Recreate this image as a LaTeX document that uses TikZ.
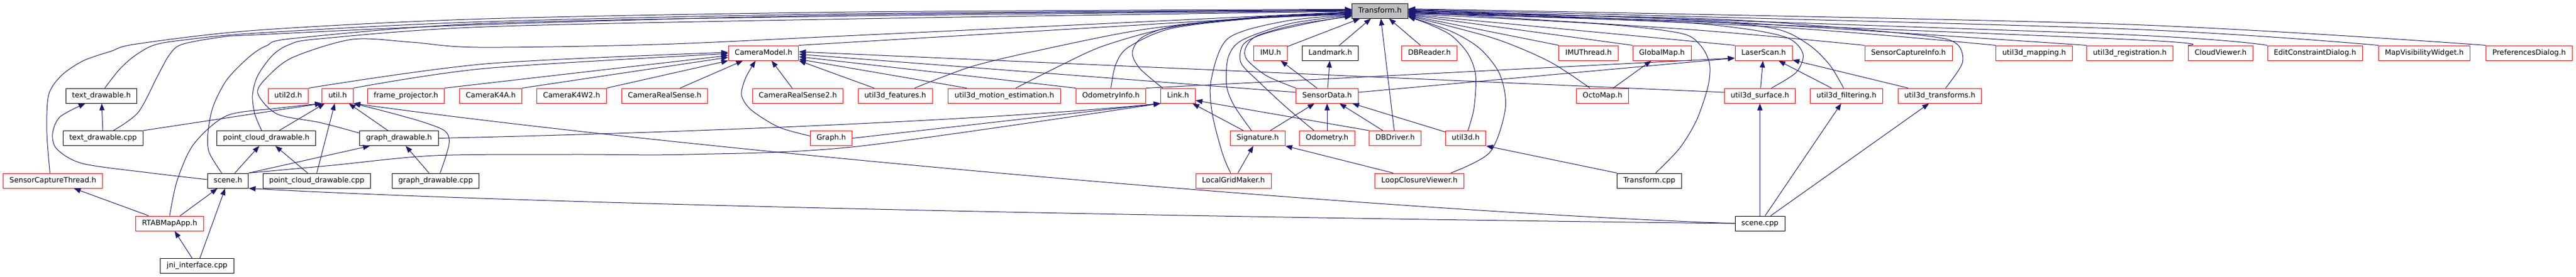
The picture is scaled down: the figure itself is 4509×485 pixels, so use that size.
\documentclass[tikz,border=0pt]{standalone}
\usepackage{fontspec}
\setmainfont{DejaVu Sans}
\usepackage{tikz}
\usetikzlibrary{arrows.meta}

\definecolor{edgeblue}{HTML}{191970}
\definecolor{partred}{HTML}{FF0000}

\begin{document}
\begin{tikzpicture}[x=1pt,y=-1pt,
        filebox/.style={draw=black, line width=1pt, inner xsep=11pt, inner ysep=0pt,
            minimum height=26pt, text height=9.5pt, text depth=3pt,
            font=\fontsize{12.8}{15}\selectfont},
        partbox/.style={filebox, draw=partred},
        mainbox/.style={filebox, fill=gray!50},
        dep/.style={edgeblue, line width=1pt, -{Triangle[length=12pt,width=9pt]}}]
    \useasboundingbox (0,0) rectangle (4509,485);

    \node[mainbox] (Tr) at (2415.5,19) {Transform.h};

    % rank 1
    \node[partbox] (CamModel) at (1336.5,93) {CameraModel.h};
    \node[partbox] (IMU) at (2224,93) {IMU.h};
    \node[filebox] (Landmark) at (2328.5,93) {Landmark.h};
    \node[partbox] (DBReader) at (2502,93) {DBReader.h};
    \node[partbox] (IMUThread) at (2780.5,93) {IMUThread.h};
    \node[partbox] (GlobalMap) at (2909,93) {GlobalMap.h};
    \node[partbox] (LaserScan) at (3087,93) {LaserScan.h};
    \node[partbox] (SCInfo) at (3340.5,93) {SensorCaptureInfo.h};
    \node[partbox] (UMapping) at (3560.5,93) {util3d\_mapping.h};
    \node[partbox] (UReg) at (3728,93) {util3d\_registration.h};
    \node[partbox] (CloudViewer) at (3887,93) {CloudViewer.h};
    \node[partbox] (EditConstr) at (4052,93) {EditConstraintDialog.h};
    \node[partbox] (MapVis) at (4243.5,93) {MapVisibilityWidget.h};
    \node[partbox] (Prefs) at (4427,93) {PreferencesDialog.h};

    % rank 2
    \node[filebox] (TextDrawH) at (177.5,168) {text\_drawable.h};
    \node[partbox] (Util2d) at (504.5,168) {util2d.h};
    \node[partbox] (Util) at (591,168) {util.h};
    \node[partbox] (FrameProj) at (710.5,168) {frame\_projector.h};
    \node[partbox] (CamK4A) at (859,168) {CameraK4A.h};
    \node[partbox] (CamK4W2) at (1000.5,168) {CameraK4W2.h};
    \node[partbox] (CamRS) at (1163.5,168) {CameraRealSense.h};
    \node[partbox] (CamRS2) at (1396.5,168) {CameraRealSense2.h};
    \node[partbox] (UFeat) at (1567,168) {util3d\_features.h};
    \node[partbox] (UMotion) at (1758,168) {util3d\_motion\_estimation.h};
    \node[partbox] (OdomInfo) at (1944.5,168) {OdometryInfo.h};
    \node[partbox] (Link) at (2062,168) {Link.h};
    \node[partbox] (SensorData) at (2323,168) {SensorData.h};
    \node[partbox] (OctoMap) at (2805,168) {OctoMap.h};
    \node[partbox] (USurface) at (3080.5,168) {util3d\_surface.h};
    \node[partbox] (UFilter) at (3232,168) {util3d\_filtering.h};
    \node[partbox] (UTrans) at (3395.5,168) {util3d\_transforms.h};

    % rank 3
    \node[filebox] (TextDrawCpp) at (180.5,242.5) {text\_drawable.cpp};
    \node[filebox] (PcdH) at (466,242.5) {point\_cloud\_drawable.h};
    \node[filebox] (GraphDrawH) at (698.5,242.5) {graph\_drawable.h};
    \node[partbox] (Graph) at (1455,242.5) {Graph.h};
    \node[partbox] (Signature) at (2201.5,242.5) {Signature.h};
    \node[partbox] (Odometry) at (2323,242.5) {Odometry.h};
    \node[partbox] (DBDriver) at (2442,242.5) {DBDriver.h};
    \node[partbox] (Util3d) at (2565.5,242.5) {util3d.h};

    % rank 4
    \node[partbox] (SCThread) at (92.5,317) {SensorCaptureThread.h};
    \node[filebox] (SceneH) at (399,317) {scene.h};
    \node[filebox] (PcdCpp) at (554.5,317) {point\_cloud\_drawable.cpp};
    \node[filebox] (GraphDrawCpp) at (762.5,317) {graph\_drawable.cpp};
    \node[partbox] (LocalGrid) at (2159,317) {LocalGridMaker.h};
    \node[partbox] (LCViewer) at (2484.5,317) {LoopClosureViewer.h};
    \node[filebox] (TrCpp) at (2887,317) {Transform.cpp};

    % rank 5 and 6
    \node[partbox] (RTABMapApp) at (297,392) {RTABMapApp.h};
    \node[filebox] (SceneCpp) at (3080.5,392) {scene.cpp};
    \node[filebox] (Jni) at (345,466.5) {jni\_interface.cpp};

    % into Transform.h from the left
    \draw[dep] plot[smooth] coordinates {([xshift=-5pt]SCThread.north) (82,233) (85,167) (107,133) (145,107) (194,90) (240,77) (450,53) (850,33) (1500,21) (Tr.177)};
    \draw[dep] plot[smooth] coordinates {([xshift=6pt]TextDrawH.north) (208,123) (233,100) (267,80) (315,71) (450,58) (850,38) (1500,24) (Tr.178)};
    \draw[dep] plot[smooth] coordinates {([xshift=18pt]TextDrawCpp.north) (242,197) (276,133) (296,97) (318,78) (388,65) (450,61) (850,43) (1500,26) (Tr.179)};
    \draw[dep] plot[smooth] coordinates {([xshift=-11pt]SceneH.north) (366,267) (364,233) (373,187) (397,140) (436,100) (467,80) (517,67) (850,41) (1500,28) (Tr.180)};
    \draw[dep] plot[smooth] coordinates {([xshift=-8pt]PcdH.north) (446,200) (442,167) (451,133) (477,97) (507,78) (560,68) (850,47) (1500,33) (Tr.181)};
    \draw[dep] plot[smooth] coordinates {([yshift=9pt]GraphDrawH.west) (560,215) (485,200) (451,163) (470,133) (514,100) (617,69) (720,74) (837,83) (1150,78) (1500,62) (Tr.182)};
    \draw[dep] (CamModel.north east)-- (Tr.183);
    \draw[dep] plot[smooth] coordinates {([xshift=34pt]UFeat.north) (1700,117) (1820,88) (2000,52) (2200,30) (Tr.184)};
    \draw[dep] plot[smooth] coordinates {([xshift=20pt]UMotion.north) (1860,113) (1933,80) (2050,48) (2200,31) (Tr.185)};
    \draw[dep] plot[smooth] coordinates {(OdomInfo.north) (1953,113) (1975,83) (2050,50) (2200,32) (Tr.186)};
    \draw[dep] plot[smooth] coordinates {([xshift=-27pt]Link.north) (1995,120) (1982,92) (2000,65) (2060,45) (2200,32) (Tr.187)};
    \draw[dep] plot[smooth] coordinates {([xshift=-5pt]LocalGrid.north) (2140,270) (2122,200) (2120,140) (2150,67) (2250,37) (Tr.188)};
    \draw[dep] plot[smooth] coordinates {([xshift=-11pt]Signature.north) (2160,185) (2147,150) (2150,100) (2175,70) (2260,41) (Tr.189)};
    \draw[dep] plot[smooth] coordinates {([xshift=-23pt]Odometry.north) (2250,187) (2203,143) (2172,110) (2177,77) (2217,58) (2300,39) (Tr.190)};
    \draw[dep] plot[smooth] coordinates {(SensorData.north west) (2217,133) (2183,105) (2180,85) (2200,63) (2270,43) (Tr.191)};

    % into Transform.h from below
    \draw[dep] (IMU)-- (Tr);
    \draw[dep] (Landmark)-- (Tr);
    \draw[dep] (DBDriver)-- (Tr);
    \draw[dep] (DBReader)-- (Tr);

    % into Transform.h from the right
    \draw[dep] plot[smooth] coordinates {([xshift=4pt]Util3d.north) (2580,190) (2583,133) (2570,95) (2540,62) (2500,42) (Tr.348)};
    \draw[dep] plot[smooth] coordinates {([xshift=55pt]LCViewer.north) (2608,267) (2635,190) (2625,130) (2590,85) (2540,55) (Tr.349)};
    \draw[dep] plot[smooth] coordinates {([xshift=-22pt]OctoMap.north) (2712,108) (2614,67) (Tr.350)};
    \draw[dep] (IMUThread.north west)-- (Tr.351);
    \draw[dep] (GlobalMap.north west)-- (Tr.352);
    \draw[dep] (LaserScan.north west)-- (Tr.353);
    \draw[dep] plot[smooth] coordinates {([xshift=11pt]TrCpp.north) (2940,260) (2970,210) (2990,150) (2992,110) (2975,78) (2940,58) (2800,42) (Tr.354)};
    \draw[dep] plot[smooth] coordinates {([xshift=20pt]USurface.north) (3144,127) (3156,95) (3130,67) (3050,50) (2900,37) (Tr.355)};
    \draw[dep] plot[smooth] coordinates {([xshift=-5pt]UFilter.north) (3202,113) (3164,77) (3105,50) (2960,37) (Tr.356)};
    \draw[dep] plot[smooth] coordinates {([xshift=10pt]UTrans.north) (3435,110) (3425,77) (3372,63) (3154,43) (2960,32) (Tr.357)};
    \draw[dep] plot[smooth] coordinates {(SCInfo.north west) (2960,52) (Tr.358)};
    \draw[dep] plot[smooth] coordinates {(UMapping.north west) (3100,47) (Tr.359)};
    \draw[dep] plot[smooth] coordinates {(UReg.north west) (2960,35) (Tr.0)};
    \draw[dep] plot[smooth] coordinates {(CloudViewer.north west) (3700,68) (Tr.1)};
    \draw[dep] plot[smooth] coordinates {(EditConstr.north west) (3700,60) (Tr.2)};
    \draw[dep] plot[smooth] coordinates {(MapVis.north west) (3700,50) (Tr.3)};
    \draw[dep] plot[smooth] coordinates {(Prefs.north west) (3700,42) (Tr.4)};

    % CameraModel.h
    \draw[dep] plot[smooth] coordinates {(Util2d.north east) (850,112) (CamModel.179)};
    \draw[dep] plot[smooth] coordinates {(Util.north east) (850,120) (CamModel.181)};
    \draw[dep] (FrameProj.north east)-- (CamModel.184);
    \draw[dep] (CamK4A.north east)-- (CamModel.187);
    \draw[dep] (CamK4W2.north east)-- (CamModel.south west);
    \draw[dep] ([xshift=27pt]CamRS.north)-- ([xshift=-36pt]CamModel.south);
    \draw[dep] ([xshift=-10pt]CamRS2.north)-- ([xshift=14pt]CamModel.south);
    \draw[dep] plot[smooth] coordinates {([yshift=4pt]Graph.west) (1363,223) (1315,193) (1298,167) (1305,137) ([xshift=-14pt]CamModel.south)};
    \draw[dep] ([xshift=-37pt]UFeat.north)-- (CamModel.south east);
    \draw[dep] ([xshift=-66pt]UMotion.north)-- (CamModel.350);
    \draw[dep] (OdomInfo.north west)-- (CamModel.354);
    \draw[dep] ([yshift=6pt]SensorData.west)-- (CamModel.358);
    \draw[dep] ([yshift=6pt]USurface.west)-- (CamModel.2);

    % SensorData.h, Link.h, Signature.h
    \draw[dep] (SensorData)-- (IMU);
    \draw[dep] (SensorData)-- (Landmark);
    \draw[dep] ([yshift=6pt]SensorData.east)-- (LaserScan.190);
    \draw[dep] (OdomInfo.north east)-- (LaserScan.190);
    \draw[dep] (Signature)-- (SensorData);
    \draw[dep] (Odometry)-- (SensorData);
    \draw[dep] (DBDriver)-- (SensorData);
    \draw[dep] (Util3d)-- (SensorData);
    \draw[dep] (Signature)-- (Link);
    \draw[dep] (DBDriver.north west)-- (Link.345);
    \draw[dep] (Graph.east)-- (Link.south west);
    \draw[dep] (GraphDrawH.east) .. controls (1200,233) and (1750,210) .. (Link.south west);
    \draw[dep] plot[smooth] coordinates {(SceneH.north east) (582,290) (760,273) (1000,271) (1205,271) (1500,257) (Link.south west)};
    \draw[dep] (LocalGrid)-- (Signature);
    \draw[dep] ([xshift=-46pt]LCViewer.north)-- (Signature.south east);
    \draw[dep] (TrCpp.north west)-- (Util3d.south east);
    \draw[dep] (OctoMap)-- (GlobalMap);

    % LaserScan.h and scene.cpp
    \draw[dep] (USurface)-- (LaserScan);
    \draw[dep] (UFilter)-- (LaserScan);
    \draw[dep] (UTrans)-- (LaserScan);
    \draw[dep] (SceneCpp)-- (USurface);
    \draw[dep] (SceneCpp)-- (UFilter);
    \draw[dep] (SceneCpp)-- (UTrans);
    \draw[dep] (SceneCpp.west) .. controls (2300,384) and (1000,362) .. (SceneH.south east);
    \draw[dep] (SceneCpp.west) .. controls (2400,370) and (1200,262) .. (Util.south east);

    % android app files
    \draw[dep] (TextDrawCpp)-- (TextDrawH);
    \draw[dep] (TextDrawCpp.north east)-- (Util.south west);
    \draw[dep] plot[smooth] coordinates {([yshift=2pt]SceneH.west) (260,303) (145,287) (100,262) (92,235) (105,205) ([xshift=-28pt]TextDrawH.south)};
    \draw[dep] (SceneH)-- (PcdH);
    \draw[dep] (SceneH.north east)-- ([xshift=-51pt]GraphDrawH.south);
    \draw[dep] (PcdCpp)-- (PcdH);
    \draw[dep] (PcdCpp.north)-- ([xshift=-5pt]Util.south);
    \draw[dep] (PcdH)-- (Util);
    \draw[dep] (GraphDrawH)-- (Util);
    \draw[dep] (GraphDrawCpp)-- (GraphDrawH);
    \draw[dep] plot[smooth] coordinates {([xshift=8pt]GraphDrawCpp.north) (786,253) (779,230) (740,214) (680,197) (Util.south east)};
    \draw[dep] (RTABMapApp)-- (SCThread);
    \draw[dep] (RTABMapApp)-- (SceneH);
    \draw[dep] plot[smooth] coordinates {(RTABMapApp.north) (310,317) (339,253) (397,203) (485,190) (Util.south west)};
    \draw[dep] (Jni)-- (RTABMapApp);
    \draw[dep] (Jni)-- (SceneH);
\end{tikzpicture}
\end{document}
